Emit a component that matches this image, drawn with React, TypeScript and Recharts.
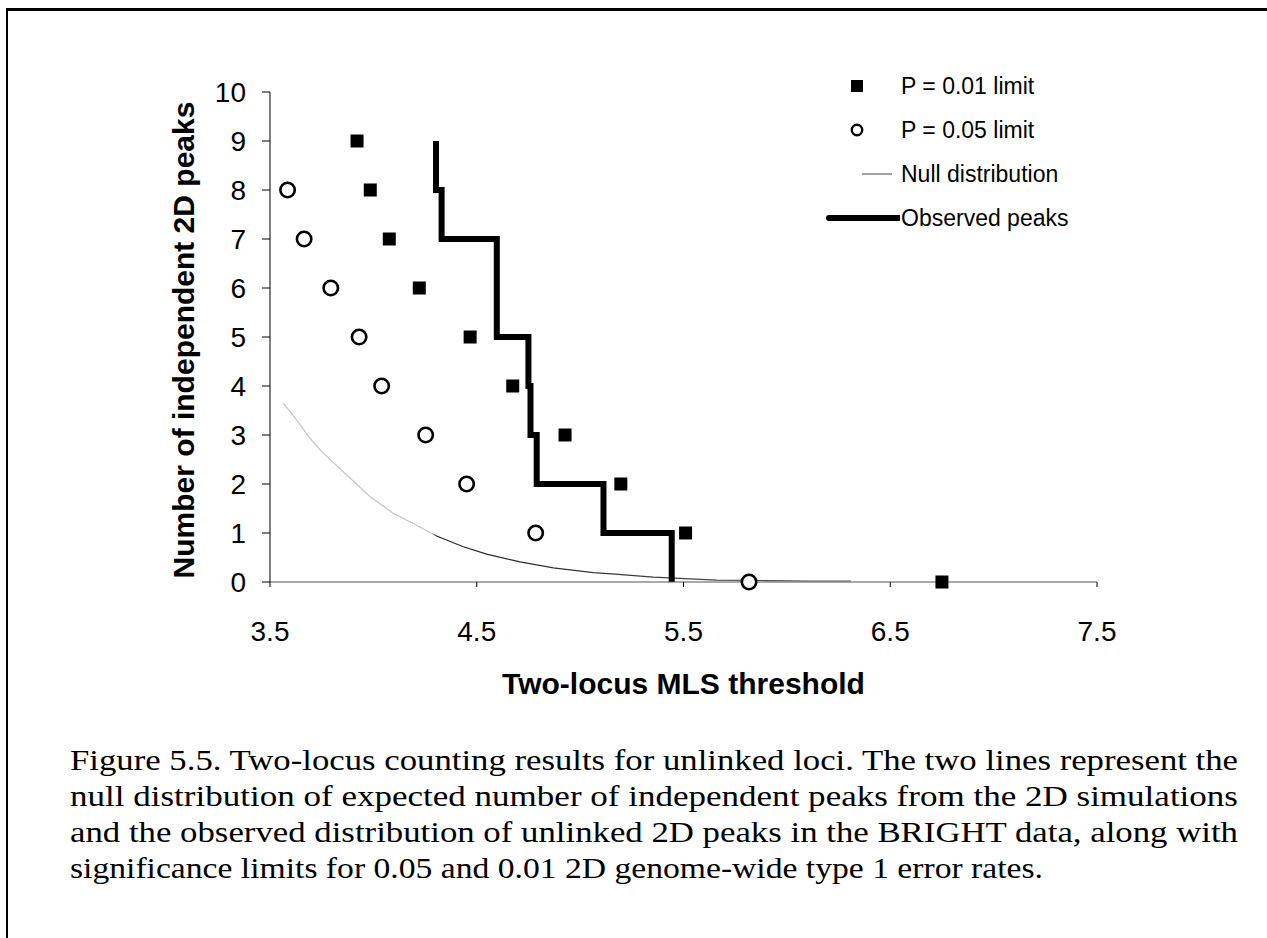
import React from 'react';
import { ComposedChart, Scatter, Line, XAxis, YAxis, Legend } from 'recharts';

const xTicks = [3.5, 4.5, 5.5, 6.5, 7.5];
const yTicks = [0, 1, 2, 3, 4, 5, 6, 7, 8, 9, 10];

const p01X = [3.921, 3.985, 4.077, 4.222, 4.468, 4.674, 4.927, 5.197, 5.51, 6.75];
const p01Y = [9, 8, 7, 6, 5, 4, 3, 2, 1, 0];

const p05X = [3.585, 3.665, 3.794, 3.931, 4.04, 4.253, 4.451, 4.785, 5.817];
const p05Y = [8, 7, 6, 5, 4, 3, 2, 1, 0];

const nullX = [3.564, 3.61, 3.694, 3.75, 3.984, 4.097, 4.177, 4.306, 4.435, 4.548, 4.709, 4.871, 5.064, 5.169, 5.354, 5.66, 5.9, 6.1, 6.31];
const nullY = [3.65, 3.41, 2.93, 2.66, 1.74, 1.4, 1.23, 0.94, 0.72, 0.57, 0.41, 0.29, 0.19, 0.16, 0.1, 0.04, 0.03, 0.02, 0.02];

const obsX = [4.303, 4.33, 4.597, 4.75, 4.76, 4.79, 5.113, 5.443, 5.443];
const obsY = [9, 8, 7, 5, 4, 3, 2, 1, 0];

const seriesNames = ['P = 0.01 limit', 'P = 0.05 limit', 'Null distribution', 'Observed peaks'];
const xTitle = 'Two-locus MLS threshold';
const yTitle = 'Number of independent 2D peaks';
const captionLines = [
  'Figure 5.5. Two-locus counting results for unlinked loci. The two lines represent the',
  'null distribution of expected number of independent peaks from the 2D simulations',
  'and the observed distribution of unlinked 2D peaks in the BRIGHT data, along with',
  'significance limits for 0.05 and 0.01 2D genome-wide type 1 error rates.',
];

const zip = (xs: number[], ys: number[]) => xs.map((x, i) => ({ x, y: ys[i] }));
const p01Data = zip(p01X, p01Y);
const p05Data = zip(p05X, p05Y);
const nullData = zip(nullX, nullY);
const obsData = zip(obsX, obsY);

const SANS = '"Liberation Sans", Arial, sans-serif';
const SERIF = '"Liberation Serif", "Times New Roman", serif';

const SquareShape = (p: any) => (
  <rect x={p.cx - 6.5} y={p.cy - 6.5} width={13} height={13} fill="#000" />
);
const CircleShape = (p: any) => (
  <circle cx={p.cx} cy={p.cy} r={7.2} fill="#fff" stroke="#000" strokeWidth={2.6} />
);

const LegendIcon = ({ name }: { name: string }) => {
  if (name === seriesNames[0]) return <rect x={31} y={16} width={12} height={12} fill="#000" />;
  if (name === seriesNames[1]) return <circle cx={37} cy={22} r={5.2} fill="#fff" stroke="#000" strokeWidth={2.4} />;
  if (name === seriesNames[2]) return <line x1={42} x2={72} y1={22} y2={22} stroke="#444" strokeWidth={1} />;
  return <line x1={9} x2={80} y1={22} y2={22} stroke="#000" strokeWidth={6} strokeLinecap="round" />;
};

const renderLegend = (props: any) => {
  const payload: any[] = props.payload || [];
  const sorted = seriesNames
    .map((n) => payload.find((p) => p.value === n))
    .filter(Boolean);
  return (
    <div style={{ width: 300 }}>
      {sorted.map((entry: any) => (
        <div key={entry.value} style={{ display: 'flex', alignItems: 'center', height: 44 }}>
          <svg width={80} height={44}>
            <LegendIcon name={entry.value} />
          </svg>
          <span style={{ fontFamily: SANS, fontSize: 23, color: '#000', marginLeft: 1 }}>{entry.value}</span>
        </div>
      ))}
    </div>
  );
};

const YTitle = (props: any) => {
  const vb = props.viewBox;
  const cx = vb.x + vb.width / 2 - 2;
  const cy = vb.y + vb.height / 2 + 3;
  return (
    <text
      x={cx}
      y={cy}
      transform={`rotate(-90 ${cx} ${cy})`}
      textAnchor="middle"
      dominantBaseline="central"
      fontFamily={SANS}
      fontWeight="bold"
      fontSize={30}
      fill="#000"
    >
      {yTitle}
    </text>
  );
};

const XTitle = (props: any) => {
  const vb = props.viewBox;
  return (
    <text
      x={vb.x + vb.width / 2}
      y={vb.y + 112}
      textAnchor="middle"
      fontFamily={SANS}
      fontWeight="bold"
      fontSize={30}
      fill="#000"
    >
      {xTitle}
    </text>
  );
};

export default function App() {
  return (
    <div style={{ position: 'absolute', left: 0, top: 0, width: 1267, height: 938, background: '#fff', overflow: 'hidden' }}>
      <div style={{ position: 'absolute', left: 6, top: 8, width: 1261, height: 930, borderTop: '3px solid #000', borderLeft: '2px solid #000', boxSizing: 'border-box' }} />
      <div style={{ position: 'absolute', left: 0, top: 0 }}>
        <ComposedChart width={1267} height={720} margin={{ top: 92, right: 170, bottom: 78, left: 100 }}>
          <defs>
            <linearGradient id="nullGrad" x1="0" y1="0" x2="1" y2="0">
              <stop offset="0" stopColor="#c4c4c4" />
              <stop offset="0.262" stopColor="#c4c4c4" />
              <stop offset="0.27" stopColor="#222" />
              <stop offset="1" stopColor="#555" />
            </linearGradient>
          </defs>
          <XAxis
            type="number"
            dataKey="x"
            domain={[3.5, 7.5]}
            ticks={xTicks}
            interval={0}
            allowDataOverflow
            height={60}
            tickSize={5}
            tickMargin={34}
            axisLine={{ stroke: '#555', strokeWidth: 1 }}
            tickLine={{ stroke: '#000' }}
            tick={{ fontFamily: SANS, fontSize: 28, fill: '#000' }}
            tickFormatter={(v: number) => v.toFixed(1)}
            label={<XTitle />}
          />
          <YAxis
            type="number"
            dataKey="y"
            domain={[0, 10]}
            ticks={yTicks}
            interval={0}
            width={170}
            tickSize={8}
            tickMargin={16}
            axisLine={{ stroke: '#000', strokeWidth: 1 }}
            tickLine={{ stroke: '#000' }}
            tick={{ fontFamily: SANS, fontSize: 28, fill: '#000' }}
            label={<YTitle />}
          />
          <Legend
            layout="vertical"
            align="center"
            verticalAlign="middle"
            content={renderLegend}
            wrapperStyle={{ position: 'absolute', left: 820, top: 64, width: 300, height: 176 }}
          />
          <Line
            name={seriesNames[2]}
            data={nullData}
            dataKey="y"
            type="linear"
            stroke="url(#nullGrad)"
            strokeWidth={1.2}
            dot={false}
            activeDot={false}
            isAnimationActive={false}
          />
          <Line
            name={seriesNames[3]}
            data={obsData}
            dataKey="y"
            type="stepBefore"
            stroke="#000"
            strokeWidth={6}
            strokeLinejoin="miter"
            dot={false}
            activeDot={false}
            isAnimationActive={false}
          />
          <Scatter name={seriesNames[0]} data={p01Data} dataKey="y" fill="#000" shape={SquareShape} isAnimationActive={false} />
          <Scatter name={seriesNames[1]} data={p05Data} dataKey="y" fill="#000" shape={CircleShape} isAnimationActive={false} />
        </ComposedChart>
      </div>
      <svg style={{ position: 'absolute', left: 0, top: 0 }} width={1267} height={938}>
        {captionLines.map((line, i) => (
          <text
            key={i}
            x={70}
            y={770 + i * 36}
            fontFamily={SERIF}
            fontSize={30}
            fill="#000"
            textLength={i < 3 ? 1168 : 973}
            lengthAdjust="spacingAndGlyphs"
          >
            {line}
          </text>
        ))}
      </svg>
    </div>
  );
}
